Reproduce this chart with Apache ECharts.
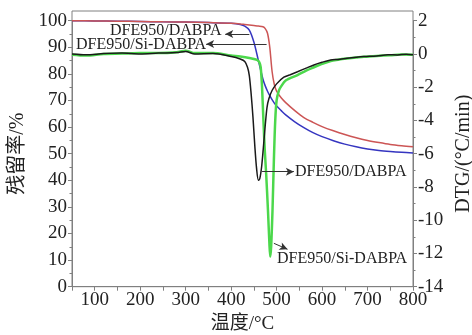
<!DOCTYPE html>
<html>
<head>
<meta charset="utf-8">
<script src="https://cdn.jsdelivr.net/npm/echarts@6/dist/echarts.min.js"></script>
<style>
html,body{margin:0;padding:0;background:#fff;}
#main{width:472px;height:335px;}
</style>
</head>
<body>
<div id="main"></div>
<script>
// TG 曲线 (左轴, %)
var tgTemp = [50, 100, 150, 200, 250, 300, 350, 400, 420, 430, 440, 450, 460, 470, 475, 480, 485, 490, 495, 500, 510, 520, 540, 560, 580, 600, 625, 650, 675, 700, 725, 750, 775, 800];
var tgDABPA = [100, 99.9, 99.8, 99.7, 99.6, 99.5, 99.3, 99.0, 98.6, 98.0, 96.5, 92.0, 85.0, 78.0, 75.5, 73.5, 71.8, 70.3, 69.0, 67.9, 66.2, 64.6, 62.0, 59.8, 57.9, 56.4, 54.9, 53.6, 52.6, 51.8, 51.2, 50.8, 50.5, 50.3];
var tgSiDABPA = [100, 99.9, 99.8, 99.7, 99.6, 99.5, 99.3, 99.0, 98.8, 98.6, 98.4, 98.2, 98.0, 97.7, 97.0, 95.3, 90.0, 81.0, 76.0, 73.5, 71.0, 69.2, 66.2, 63.6, 61.8, 60.2, 58.6, 57.2, 56.0, 55.0, 54.2, 53.5, 53.0, 52.6];

// DTG 曲线 (右轴, °C/min)
var dtgTempDABPA = [50, 80, 120, 160, 200, 240, 280, 300, 320, 360, 400, 420, 430, 436, 440, 444, 448, 452, 456, 460, 463, 467, 471, 475, 479, 483, 490, 500, 516, 530, 546, 565, 582, 600, 619, 635, 655, 675, 692, 720, 745, 766, 785, 800];
var dtgDABPA = [0.0, -0.05, 0.02, 0.05, 0.0, 0.05, 0.08, 0.15, 0.0, 0.02, -0.15, -0.3, -0.45, -0.8, -1.3, -2.4, -3.8, -5.5, -6.9, -7.6, -7.5, -6.8, -5.6, -4.3, -3.2, -2.7, -2.2, -1.8, -1.4, -1.25, -1.07, -0.85, -0.66, -0.5, -0.36, -0.33, -0.26, -0.2, -0.16, -0.12, -0.05, -0.06, -0.02, -0.05];
var dtgTempSi = [50, 80, 120, 160, 200, 240, 280, 300, 320, 360, 400, 420, 443, 457, 462, 465, 468, 471, 474, 477, 481, 484, 486, 488, 491, 494, 497, 500, 505, 510, 520, 546, 565, 582, 600, 619, 635, 655, 675, 692, 720, 750, 775, 800];
var dtgSiDABPA = [-0.05, -0.1, 0.0, 0.02, 0.05, 0.05, 0.1, 0.2, 0.05, 0.05, -0.1, -0.15, -0.26, -0.36, -0.5, -0.8, -2.0, -4.0, -5.8, -7.2, -9.4, -11.3, -12.2, -11.6, -9.4, -6.4, -4.0, -2.8, -2.2, -1.95, -1.6, -1.27, -1.0, -0.8, -0.6, -0.42, -0.35, -0.28, -0.22, -0.17, -0.12, -0.08, -0.04, -0.05];

var xTicks = [100, 200, 300, 400, 500, 600, 700, 800];

function pairs(t, v) {
	var out = [];
	for (var i = 0; i < t.length; i++) {
		out.push([t[i], v[i]]);
	}
	return out;
}

var serif = "'Liberation Serif', 'Noto Sans CJK SC'";
var axisColor = '#808080';
var txtColor = '#222';

var arrowStyle = {
	silent: true,
	symbol: ['none', 'arrow'],
	symbolSize: [6, 8],
	label: {show: false},
	lineStyle: {color: '#333', width: 1, type: 'solid'},
	emphasis: {disabled: true}
};

function mark(lines) {
	var m = {};
	for (var k in arrowStyle) m[k] = arrowStyle[k];
	m.data = lines;
	return m;
}

var myChart = echarts.init(document.getElementById('main'), null, {renderer: 'canvas'});
var option = {
	animation: false,
	backgroundColor: '#fff',
	grid: {left: 72, right: 59, top: 20.7, bottom: 48.3, containLabel: false, outerBoundsMode: 'none'},
	xAxis: {
		type: 'value',
		min: 50,
		max: 800,
		interval: 50,
		name: '温度/°C',
		nameLocation: 'middle',
		nameGap: 27,
		nameTextStyle: {fontFamily: serif, fontSize: 19, color: txtColor},
		axisLine: {lineStyle: {color: axisColor, width: 1}},
		axisTick: {inside: false, length: 4, lineStyle: {color: axisColor}},
		axisLabel: {
			margin: 4,
			fontFamily: serif,
			fontSize: 19,
			color: txtColor,
			formatter: function (v) {
				return xTicks.indexOf(v) >= 0 ? String(v) : '';
			}
		},
		splitLine: {show: false}
	},
	yAxis: [{
		type: 'value',
		min: 0,
		max: 100,
		interval: 10,
		position: 'left',
		name: '残留率/%',
		nameLocation: 'middle',
		nameRotate: 90,
		nameGap: 31,
		nameTextStyle: {fontFamily: serif, fontSize: 20, color: txtColor},
		axisLine: {show: true, lineStyle: {color: axisColor, width: 1}},
		axisTick: {show: true, length: 4, lineStyle: {color: axisColor}},
		minorTick: {show: true, splitNumber: 2, length: 2.5, lineStyle: {color: axisColor}},
		axisLabel: {margin: 5, fontFamily: serif, fontSize: 19, color: txtColor},
		splitLine: {show: false}
	}, {
		type: 'value',
		min: -14,
		max: 2,
		interval: 2,
		position: 'right',
		name: 'DTG/(°C/min)',
		nameLocation: 'middle',
		nameRotate: 90,
		nameGap: 40,
		nameTextStyle: {fontFamily: serif, fontSize: 20, color: txtColor},
		axisLine: {show: true, lineStyle: {color: axisColor, width: 1}},
		axisTick: {show: true, length: 4, lineStyle: {color: axisColor}},
		minorTick: {show: true, splitNumber: 2, length: 2.5, lineStyle: {color: axisColor}},
		axisLabel: {margin: 5, fontFamily: serif, fontSize: 19, color: txtColor},
		splitLine: {show: false}
	}],
	graphic: [
		{type: 'rect', z: -1, shape: {x: 72, y: 11, width: 341, height: 275.7}, style: {fill: 'none', stroke: axisColor, lineWidth: 1}},
		{type: 'text', style: {x: 110, y: 31, text: 'DFE950/DABPA', font: '16px ' + serif, fill: txtColor, textVerticalAlign: 'middle', verticalAlign: 'middle'}},
		{type: 'text', style: {x: 76, y: 44.5, text: 'DFE950/Si-DABPA', font: '16px ' + serif, fill: txtColor, textVerticalAlign: 'middle', verticalAlign: 'middle'}},
		{type: 'text', style: {x: 295, y: 172, text: 'DFE950/DABPA', font: '16px ' + serif, fill: txtColor, textVerticalAlign: 'middle', verticalAlign: 'middle'}},
		{type: 'text', style: {x: 277, y: 258.5, text: 'DFE950/Si-DABPA', font: '16px ' + serif, fill: txtColor, textVerticalAlign: 'middle', verticalAlign: 'middle'}}
	],
	series: [{
		name: 'TG DFE950/DABPA',
		type: 'line',
		yAxisIndex: 0,
		clip: false,
		symbol: 'none',
		smooth: 0.3,
		lineStyle: {color: '#3535c0', width: 1.5},
		data: pairs(tgTemp, tgDABPA),
		markLine: mark([[{coord: [440, 95]}, {coord: [387, 95]}]])
	}, {
		name: 'TG DFE950/Si-DABPA',
		type: 'line',
		yAxisIndex: 0,
		clip: false,
		symbol: 'none',
		smooth: 0.3,
		lineStyle: {color: '#cc5555', width: 1.5},
		data: pairs(tgTemp, tgSiDABPA),
		markLine: mark([[{coord: [478, 91.2]}, {coord: [345, 91.2]}]])
	}, {
		name: 'DTG DFE950/Si-DABPA',
		type: 'line',
		yAxisIndex: 1,
		symbol: 'none',
		smooth: 0.3,
		lineStyle: {color: '#4cd84c', width: 2.5},
		data: pairs(dtgTempSi, dtgSiDABPA),
		markLine: mark([[{coord: [494, -11.39]}, {coord: [524, -11.75]}]])
	}, {
		name: 'DTG DFE950/DABPA',
		type: 'line',
		yAxisIndex: 1,
		symbol: 'none',
		smooth: 0.3,
		lineStyle: {color: '#1a1a1a', width: 1.5},
		data: pairs(dtgTempDABPA, dtgDABPA),
		markLine: mark([[{coord: [468, -7.08]}, {coord: [538, -7.08]}]])
	}]
};
myChart.setOption(option);
window.onresize = function () {
	myChart.resize();
};
</script>
</body>
</html>
